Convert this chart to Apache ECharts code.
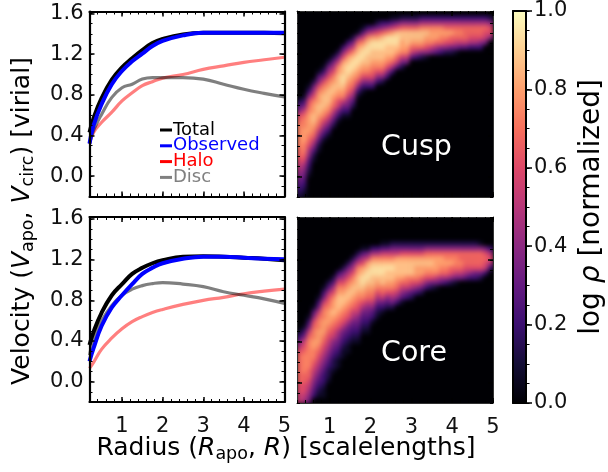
<!DOCTYPE html>
<html><head><meta charset="utf-8">
<style>html,body{margin:0;padding:0;background:#fff}#c{width:608px;height:472px}</style>
<script src="https://cdn.jsdelivr.net/npm/echarts@6/dist/echarts.min.js"></script></head>
<body><div id="c"></div>
<script>
const xMajor=[1,2,3,4,5];
const yMajor=[0,0.4,0.8,1.2,1.6];

const cuspR=[0.2,0.3,0.5,0.75,1,1.25,1.5,1.75,2,2.5,3,3.5,4,4.5,5];
const cuspTotal=[0.43,0.57,0.77,0.95,1.07,1.16,1.24,1.31,1.35,1.395,1.41,1.41,1.41,1.41,1.405];
const cuspObserved=[0.32,0.5,0.71,0.905,1.035,1.13,1.205,1.28,1.33,1.385,1.41,1.41,1.41,1.41,1.41];
const cuspHalo=[0.32,0.43,0.53,0.63,0.74,0.82,0.89,0.93,0.965,1.0,1.05,1.085,1.12,1.145,1.17];
const cuspDisc=[0.32,0.45,0.61,0.775,0.87,0.905,0.955,0.97,0.97,0.97,0.955,0.905,0.855,0.815,0.78];

const coreR=[0.2,0.3,0.5,0.75,1,1.25,1.5,1.75,2,2.5,3,3.5,4,4.5,5];
const coreTotal=[0.36,0.49,0.68,0.85,0.96,1.06,1.12,1.165,1.195,1.23,1.235,1.23,1.22,1.21,1.195];
const coreObserved=[0.2,0.33,0.55,0.73,0.85,0.96,1.06,1.12,1.165,1.21,1.23,1.228,1.22,1.21,1.205];
const coreHalo=[0.13,0.19,0.32,0.43,0.52,0.59,0.64,0.68,0.71,0.76,0.8,0.83,0.865,0.89,0.91];
const coreDisc=[0.26,0.42,0.6,0.75,0.85,0.91,0.945,0.965,0.975,0.96,0.935,0.885,0.85,0.815,0.77];

// density columns, left to right: [first non-zero row from the top, hex levels 0-f of 15]
const cuspColumns=[
[18,'2469 abbb bbaa 9876 5432'],[17,'1358 abbc ccbb a976 5432 1'],[15,'1369 abcc ccba 9764 321'],[14,'2579 bccd dcba 8642 1'],
[12,'1469 bccd dcba 8642 1'],[11,'1369 bcdd dcb9 7531'],[10,'2579 bcdd dcb9 7531'],[9,'2579 bcdd cba8 642'],
[8,'258b cddd cb98 531'],[7,'369c ddee dcb8 531'],[6,'369c deed cba8 6531'],[5,'258b deed cba8 642'],
[4,'16ac deed cb96 31'],[3,'148b deed cb96 31'],[3,'37bd eedd cb96 3'],[3,'48ce eddc ba96 3'],
[2,'259c eedd cb96 3'],[2,'36ad eedd cb96 2'],[2,'37be eddc b963'],[1,'148c eedd ca73'],
[1,'159d eedc a84'],[1,'26ad dccb 852'],[1,'26ad ddcb 85'],[1,'26ad dca8 4'],
[1,'26ad dca7 3'],[1,'37bd dca6 2'],[1,'37bd cb96 1'],[1,'37bc cb85'],
[1,'37bc ca74'],[1,'37bc ba63'],[1,'37ac b962'],[1,'37ac a952'],
[1,'37ab a851'],[1,'37ab a84'],[1,'37aa a84'],[1,'37aa 973'],
[1,'37aa 973'],[1,'37aa 963'],[1,'37a9 85'],[1,'2699 6']];

const coreColumns=[
[23,'1357 9aaa aaa9 988'],[22,'1358 9abb bbaa 9987'],[20,'1358 abbb bbba a987 65'],[18,'1469 abbc cbba 9876 543'],
[16,'1358 abbc ccba 9876 5432 1'],[14,'1358 abbc ccba 9876 5433 211'],[13,'2479 abcc cba9 8765 4322 1'],[12,'2479 bccd cba9 8654 3221'],
[11,'369b cddd cba9 7654 3211'],[10,'2579 bcdd cba9 7543 211'],[9,'2579 bcdd cba9 7543 211'],[8,'2579 bcdd cba8 7543 21'],
[7,'258b cddd cba9 8654 321'],[6,'1479 cdee dcb9 7543 21'],[6,'158c deed cba8 6543 21'],[6,'37bd eedd cba8 6431'],
[6,'37bd eedc b975 321'],[5,'148b deed dba8 531'],[5,'148b dedd cb96 42'],[5,'258b dedd cb97 52'],
[5,'258c dddc ba86 3'],[5,'259c dddc a864 1'],[5,'259c dddb a853'],[5,'259c dddb 9742'],
[5,'259c dccb 963'],[5,'259c dcca 852'],[5,'26ac dcb9 63'],[5,'26ac dcb9 52'],
[5,'26ac ccb8 51'],[5,'26ac cba7 4'],[5,'26ab cba7 3'],[5,'26ab ca96 2'],
[5,'26ab ba85 1'],[5,'26aa ba85'],[5,'26aa a974'],[5,'26aa a963'],
[5,'26aa a953'],[5,'16aa a952'],[6,'59a9 83'],[6,'3797 3']];

const magma=['#000004','#140e36','#3b0f70','#641a80','#8c2981','#b73779','#de4968','#f7705c','#fe9f6d','#fecf92','#fcfdbf'];
const NROWS=38;

const LP={left:89.5,width:195,top:[11.5,217],height:185};
const RP={left:297,width:196,top:[11,217],height:186};
const CB={left:513,top:11,width:13,height:392};
const FONT='DejaVu Sans';
const TICKFS=21;

const grids=[],xAxes=[],yAxes=[],series=[];
function line(w,c){return {show:true,onZero:false,lineStyle:{color:c,width:w}};}
function panelAxes(box,top,showX,showY,lw,lc){
  const rect={left:box.left,top:top,width:box.width,height:box.height};
  const g=grids.length; grids.push({...rect});
  const tick=(vals)=>({show:true,inside:true,length:5,customValues:vals,lineStyle:{color:'#000',width:1.5}});
  const lab=(vals,show,m,fmt)=>({show,customValues:vals,color:'#111',fontFamily:FONT,fontSize:TICKFS,margin:m,formatter:fmt,hideOverlap:false,showMinLabel:true,showMaxLabel:true});
  const x0=xAxes.length;
  xAxes.push({type:'value',gridIndex:g,position:'bottom',min:0.2,max:5,z:10,axisLine:line(lw,lc),axisTick:tick(xMajor),axisLabel:lab(xMajor,showX,14,(v)=>String(Math.round(v))),splitLine:{show:false}});
  xAxes.push({type:'value',gridIndex:g,position:'top',min:0.2,max:5,z:10,axisLine:line(lw,lc),axisTick:tick(xMajor),axisLabel:{show:false},splitLine:{show:false}});
  const y0=yAxes.length;
  yAxes.push({type:'value',gridIndex:g,position:'left',min:-0.2,max:1.62,z:10,axisLine:line(lw,lc),axisTick:tick(yMajor),axisLabel:lab(yMajor,showY,6,(v)=>(+v).toFixed(1)),splitLine:{show:false}});
  yAxes.push({type:'value',gridIndex:g,position:'right',min:-0.2,max:1.62,z:10,axisLine:line(lw,lc),axisTick:tick(yMajor),axisLabel:{show:false},splitLine:{show:false}});
  const m=grids.length; grids.push({...rect});
  const mt={show:true,inside:true,length:3,lineStyle:{color:'#000',width:1}};
  for(const pos of ['bottom','top']) xAxes.push({type:'value',gridIndex:m,position:pos,min:0.2,max:5,interval:0.2,z:10,axisLine:{show:false,onZero:false},axisTick:mt,axisLabel:{show:false},splitLine:{show:false}});
  for(const pos of ['left','right']) yAxes.push({type:'value',gridIndex:m,position:pos,min:-0.2,max:1.62,interval:0.1,z:10,axisLine:{show:false,onZero:false},axisTick:mt,axisLabel:{show:false},splitLine:{show:false}});
  return {x:x0,y:y0};
}
const NAMES=['Total','Observed','Halo','Disc'];
const LINECOL=['#000000','#0000ff','rgba(255,0,0,0.5)','rgba(0,0,0,0.5)'];
const LINEW=[4,4,3.2,3.2];
function addLines(ax,r,vals){
  [0,1,2,3].forEach(k=>series.push({type:'line',name:NAMES[k],xAxisIndex:ax.x,yAxisIndex:ax.y,
    data:r.map((v,i)=>[v,vals[k][i]]),smooth:0.45,symbol:'none',z:k===1?4:3,
    lineStyle:{color:LINECOL[k],width:LINEW[k]},itemStyle:{color:LINECOL[k]}}));
}
const heatIdx=[];
function addHeat(top,cols){
  const g=grids.length; grids.push({left:RP.left,top:top,width:RP.width,height:RP.height});
  const xi=xAxes.length,yi=yAxes.length;
  xAxes.push({type:'category',gridIndex:g,show:false,data:cols.map((_,i)=>i)});
  yAxes.push({type:'category',gridIndex:g,show:false,inverse:true,data:Array.from({length:NROWS},(_,i)=>i)});
  const data=[];
  cols.forEach((c,i)=>{
    const lv=c[1].replace(/ /g,'');
    for(let r=0;r<NROWS;r++){
      const ch=r>=c[0]?lv[r-c[0]]:undefined;
      data.push([i,r,ch?parseInt(ch,16)/15:0]);
    }
  });
  heatIdx.push(series.length);
  series.push({type:'heatmap',xAxisIndex:xi,yAxisIndex:yi,data,silent:true,zlevel:-1,progressive:0,emphasis:{disabled:true}});
}
addLines(panelAxes(LP,LP.top[0],false,true,2.2,'#000'),cuspR,[cuspTotal,cuspObserved,cuspHalo,cuspDisc]);
addLines(panelAxes(LP,LP.top[1],true,true,2.2,'#000'),coreR,[coreTotal,coreObserved,coreHalo,coreDisc]);
addHeat(RP.top[0],cuspColumns); panelAxes(RP,RP.top[0],false,false,1,'#333');
addHeat(RP.top[1],coreColumns); panelAxes(RP,RP.top[1],true,false,1,'#333');
{
  const r={left:CB.left,top:CB.top,width:CB.width,height:CB.height};
  const g=grids.length; grids.push({...r});
  for(const pos of ['bottom','top']) xAxes.push({type:'value',gridIndex:g,position:pos,min:0,max:1,z:10,axisLine:line(2,'#000'),axisTick:{show:false},axisLabel:{show:false},splitLine:{show:false}});
  yAxes.push({type:'value',gridIndex:g,position:'left',min:0,max:1,z:10,axisLine:line(2,'#000'),axisTick:{show:false},axisLabel:{show:false},splitLine:{show:false}});
  yAxes.push({type:'value',gridIndex:g,position:'right',min:0,max:1,interval:0.2,z:10,axisLine:line(2,'#000'),
    axisTick:{show:true,length:6,lineStyle:{color:'#000',width:1.5}},axisLabel:{show:true,color:'#111',fontFamily:FONT,fontSize:TICKFS,margin:8,formatter:(v)=>(+v).toFixed(1)},splitLine:{show:false}});
  const m=grids.length; grids.push({...r});
  xAxes.push({type:'value',gridIndex:m,show:false,min:0,max:1});
  yAxes.push({type:'value',gridIndex:m,position:'right',min:0,max:1,interval:0.05,z:10,axisLine:{show:false,onZero:false},axisTick:{show:true,length:3.5,lineStyle:{color:'#000',width:1}},axisLabel:{show:false},splitLine:{show:false}});
}
const LEGCOL=['#000000','#0000ff','#ff0000','#808080'];
function richFor(fs){return {
  n:{fontFamily:FONT,fontSize:fs,color:'#111',lineHeight:fs+6},
  i:{fontFamily:FONT,fontStyle:'italic',fontSize:fs,color:'#111',lineHeight:fs+6},
  s:{fontFamily:FONT,fontSize:fs*0.7,color:'#111',lineHeight:fs+6,verticalAlign:'bottom',padding:[6,0,0,0]}
};}
const option={
  animation:false,backgroundColor:'#000004',
  grid:grids,xAxis:xAxes,yAxis:yAxes,series,
  legend:{show:true,selectedMode:false,orient:'vertical',left:160,top:121,padding:0,itemGap:-2.2,itemWidth:12,itemHeight:3,
    data:NAMES.map((n,k)=>({name:n,icon:'rect',itemStyle:{color:LEGCOL[k],opacity:1,borderWidth:0},lineStyle:{width:0},
      textStyle:{color:LEGCOL[k],fontFamily:FONT,fontSize:18,lineHeight:18,padding:[0,0,0,-4]}}))},
  visualMap:{type:'continuous',min:0,max:1,seriesIndex:heatIdx,calculable:false,realtime:false,hoverLink:false,
    left:CB.left,top:CB.top,itemWidth:CB.width,itemHeight:CB.height,padding:0,showLabel:false,text:null,
    inRange:{color:magma},z:4},
  graphic:[
    {type:'text',x:286,y:448,silent:true,style:{text:'{n|Radius (}{i|R}{s|apo}{n|, }{i|R}{n|) [scalelengths]}',rich:richFor(25),align:'center',verticalAlign:'middle'}},
    {type:'text',x:22,y:221,rotation:Math.PI/2,silent:true,style:{text:'{n|Velocity (}{i|V}{s|apo}{n|, }{i|V}{s|circ}{n|) [virial]}',rich:richFor(25),align:'center',verticalAlign:'middle'}},
    {type:'text',x:592,y:207,rotation:Math.PI/2,silent:true,style:{text:'{n|log }{i|ρ}{n| [normalized]}',rich:richFor(28),align:'center',verticalAlign:'middle'}},
    {type:'text',x:381,y:148,silent:true,z:20,style:{text:'Cusp',fill:'#fff',fontFamily:FONT,fontSize:28.5,verticalAlign:'middle'}},
    {type:'text',x:381,y:354,silent:true,z:20,style:{text:'Core',fill:'#fff',fontFamily:FONT,fontSize:28.5,verticalAlign:'middle'}}
  ]
};
const chart=echarts.init(document.getElementById('c'),null,{renderer:'canvas'});
chart.setOption(option);
const base=document.querySelector('#c canvas');
base.style.filter='blur(2px)';
base.style.clipPath="path('M297 11H493V197H297Z M297 217H493V403H297Z')";
</script></body></html>
